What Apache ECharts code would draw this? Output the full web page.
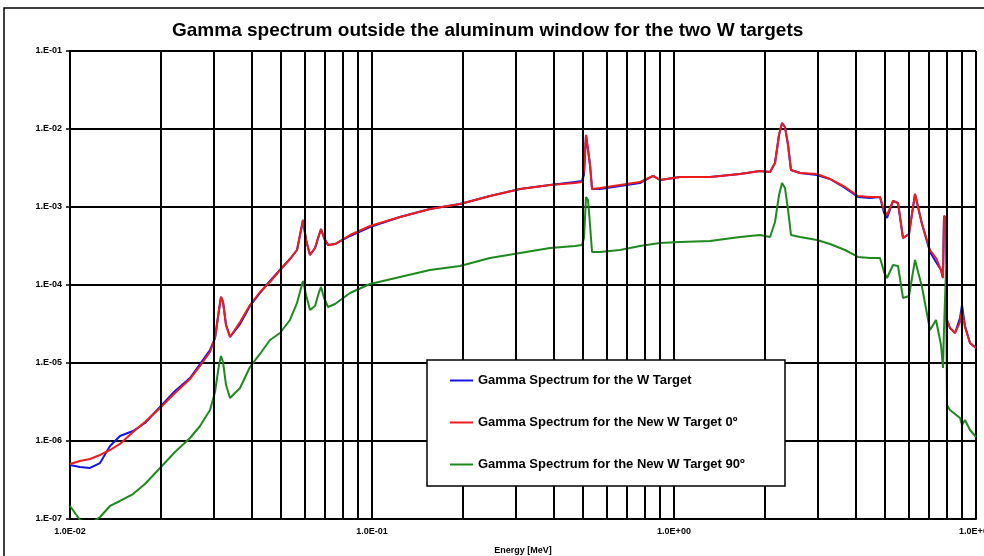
<!DOCTYPE html>
<html>
<head>
<meta charset="utf-8">
<script src="https://cdn.jsdelivr.net/npm/echarts@6/dist/echarts.min.js"></script>
<style>
  html, body { margin: 0; padding: 0; background: #fff; }
  #main { width: 984px; height: 556px; }
</style>
</head>
<body>
<div id="main"></div>
<script>
// energy grid [MeV]
var energy = [
  0.0100, 0.01079, 0.01165, 0.01257, 0.01357, 0.01464, 0.01617, 0.01771, 0.01986, 0.02227,
  0.02497, 0.02695, 0.02908, 0.03021, 0.03114, 0.03162, 0.03211, 0.03286, 0.03388, 0.03656,
  0.03944, 0.04256, 0.04594, 0.04958, 0.0535, 0.05646, 0.05821, 0.0591, 0.06048, 0.06234,
  0.06477, 0.06678, 0.06781, 0.06939, 0.07153, 0.07544, 0.08457, 0.09849, 0.1238, 0.1556,
  0.1956, 0.2459, 0.3091, 0.3885, 0.4702, 0.496, 0.5035, 0.5113, 0.5191, 0.5272,
  0.5353, 0.5689, 0.6625, 0.7716, 0.8522, 0.8988, 1.047, 1.316, 1.654, 1.927,
  2.08, 2.16, 2.227, 2.279, 2.331, 2.386, 2.44, 2.614, 2.976, 3.286,
  3.683, 4.068, 4.457, 4.81, 4.96, 5.074, 5.312, 5.518, 5.732, 6.0,
  6.281, 6.625, 7.043, 7.372, 7.658, 7.776, 7.834, 7.955, 8.016, 8.201,
  8.521, 8.851, 8.988, 9.196, 9.553, 10.0
];
// W target
var wTarget = [
  4.92e-7, 4.64e-7, 4.51e-7, 5.22e-7, 8.63e-7, 1.16e-6, 1.344e-6, 1.702e-6, 2.728e-6, 4.376e-6,
  6.42e-6, 9.71e-6, 1.469e-5, 2.09e-5, 4.78e-5, 7.02e-5, 6.06e-5, 3.07e-5, 2.154e-5, 3.16e-5,
  5.38e-5, 7.9e-5, 1.126e-4, 1.557e-4, 2.154e-4, 2.81e-4, 5.07e-4, 6.81e-4, 3.775e-4, 2.424e-4,
  2.98e-4, 4.376e-4, 5.224e-4, 4.0e-4, 3.257e-4, 3.35e-4, 4.25e-4, 5.54e-4, 7.445e-4, 9.43e-4,
  1.093e-3, 1.384e-3, 1.702e-3, 1.915e-3, 2.09e-3, 2.154e-3, 2.572e-3, 8.38e-3, 8.13e-3, 3.455e-3,
  1.702e-3, 1.702e-3, 1.86e-3, 2.031e-3, 2.5e-3, 2.22e-3, 2.424e-3, 2.424e-3, 2.65e-3, 2.894e-3,
  2.81e-3, 3.665e-3, 8.38e-3, 1.194e-2, 1.061e-2, 6.24e-3, 2.98e-3, 2.728e-3, 2.572e-3, 2.286e-3,
  1.753e-3, 1.344e-3, 1.305e-3, 1.344e-3, 8.38e-4, 7.23e-4, 1.194e-3, 1.126e-3, 4.0e-4, 4.51e-4,
  1.469e-3, 6.06e-4, 2.65e-4, 1.97e-4, 1.557e-4, 1.23e-4, 7.67e-4, 7.23e-4, 3.56e-5, 2.81e-5,
  2.424e-5, 3.775e-5, 5.54e-5, 2.98e-5, 1.805e-5, 1.557e-5
];
// new W target 0 deg
var newW0 = [
  5.07e-7, 5.54e-7, 5.88e-7, 6.62e-7, 7.67e-7, 9.16e-7, 1.305e-6, 1.753e-6, 2.65e-6, 4.125e-6,
  6.24e-6, 9.16e-6, 1.384e-5, 2.09e-5, 4.78e-5, 7.02e-5, 6.06e-5, 3.07e-5, 2.154e-5, 3.35e-5,
  5.54e-5, 8.13e-5, 1.093e-4, 1.557e-4, 2.154e-4, 2.81e-4, 5.07e-4, 6.81e-4, 3.775e-4, 2.424e-4,
  2.98e-4, 4.376e-4, 5.224e-4, 4.0e-4, 3.257e-4, 3.35e-4, 4.376e-4, 5.71e-4, 7.445e-4, 9.43e-4,
  1.093e-3, 1.384e-3, 1.702e-3, 1.915e-3, 2.031e-3, 2.09e-3, 2.98e-3, 8.38e-3, 8.13e-3, 3.455e-3,
  1.702e-3, 1.753e-3, 1.915e-3, 2.09e-3, 2.5e-3, 2.22e-3, 2.424e-3, 2.424e-3, 2.65e-3, 2.894e-3,
  2.81e-3, 3.665e-3, 8.38e-3, 1.194e-2, 1.061e-2, 6.24e-3, 2.98e-3, 2.728e-3, 2.65e-3, 2.286e-3,
  1.805e-3, 1.384e-3, 1.344e-3, 1.344e-3, 9.16e-4, 7.898e-4, 1.194e-3, 1.126e-3, 4.0e-4, 4.51e-4,
  1.469e-3, 6.06e-4, 2.81e-4, 2.22e-4, 1.557e-4, 1.23e-4, 7.67e-4, 7.23e-4, 3.56e-5, 2.81e-5,
  2.424e-5, 3.35e-5, 4.78e-5, 2.894e-5, 1.805e-5, 1.557e-5
];
// new W target 90 deg
var newW90 = [
  1.469e-7, 9.71e-8, 8.63e-8, 1.061e-7, 1.469e-7, 1.702e-7, 2.09e-7, 2.81e-7, 4.51e-7, 7.23e-7,
  1.093e-6, 1.557e-6, 2.5e-6, 4.25e-6, 9.43e-6, 1.23e-5, 1.03e-5, 5.22e-6, 3.56e-6, 4.78e-6,
  8.89e-6, 1.305e-5, 1.97e-5, 2.424e-5, 3.56e-5, 5.88e-5, 9.16e-5, 1.126e-4, 7.445e-5, 4.78e-5,
  5.38e-5, 8.13e-5, 9.43e-5, 6.81e-5, 5.22e-5, 5.71e-5, 7.9e-5, 1.03e-4, 1.267e-4, 1.557e-4,
  1.753e-4, 2.22e-4, 2.572e-4, 2.98e-4, 3.16e-4, 3.257e-4, 4.0e-4, 1.344e-3, 1.23e-3, 5.88e-4,
  2.65e-4, 2.65e-4, 2.81e-4, 3.16e-4, 3.35e-4, 3.455e-4, 3.56e-4, 3.665e-4, 4.125e-4, 4.376e-4,
  4.125e-4, 6.42e-4, 1.426e-3, 2.031e-3, 1.753e-3, 9.16e-4, 4.376e-4, 4.125e-4, 3.775e-4, 3.35e-4,
  2.81e-4, 2.286e-4, 2.22e-4, 2.22e-4, 1.469e-4, 1.23e-4, 1.805e-4, 1.753e-4, 6.81e-5, 7.23e-5,
  2.09e-4, 9.43e-5, 2.65e-5, 3.56e-5, 1.702e-5, 8.63e-6, 2.65e-5, 1.557e-4, 2.894e-6, 2.5e-6,
  2.22e-6, 1.97e-6, 1.604e-6, 1.86e-6, 1.384e-6, 1.126e-6
];
// gridlines between the decades
var minorTicks = [0.02, 0.03, 0.04, 0.05, 0.06, 0.07, 0.08, 0.09,
                  0.2, 0.3, 0.4, 0.5, 0.6, 0.7, 0.8, 0.9,
                  2, 3, 4, 5, 6, 7, 8, 9];
var seriesNames = ['Gamma Spectrum for the W Target', 'Gamma Spectrum for the New W Target 0º', 'Gamma Spectrum for the New W Target 90º'];

function pairs(ys) {
  return energy.map(function (e, i) { return [e, ys[i]]; });
}
function expLabel(v, mant) {
  var e = Math.round(Math.log10(v));
  return mant + 'E' + (e < 0 ? '-' : '+') + String(Math.abs(e)).padStart(2, '0');
}

var font = '"Liberation Sans", Arial, sans-serif';
var chart = echarts.init(document.getElementById('main'));
var option = {
  animation: false,
  backgroundColor: '#fff',
  title: {
    text: 'Gamma spectrum outside the aluminum window for the two W targets',
    left: 167,
    top: 16,
    textStyle: { fontFamily: font, fontSize: 19, fontWeight: 'bold', color: '#000' }
  },
  graphic: [
    { type: 'rect', z: 0, shape: { x: 4, y: 8, width: 1000, height: 600 }, style: { fill: 'none', stroke: '#000', lineWidth: 1.5 } },
    { type: 'rect', z: 50, shape: { x: 427, y: 360, width: 358, height: 126 }, style: { fill: '#fff', stroke: '#000', lineWidth: 1.5 } }
  ],
  legend: {
    data: seriesNames,
    orient: 'vertical',
    left: 445,
    top: 369,
    z: 60,
    icon: 'rect',
    itemWidth: 23,
    itemHeight: 2,
    itemGap: 29,
    textStyle: { fontFamily: font, fontSize: 13, fontWeight: 'bold', color: '#000' }
  },
  grid: { left: 70, right: 8, top: 51, bottom: 37, containLabel: false, outerBoundsMode: 'none' },
  xAxis: {
    type: 'log',
    logBase: 10,
    min: 0.01,
    max: 10,
    name: 'Energy [MeV]',
    nameLocation: 'middle',
    nameGap: 27,
    nameTextStyle: { fontFamily: font, fontSize: 9, fontWeight: 'bold', color: '#000' },
    axisLine: { lineStyle: { color: '#000', width: 2 } },
    axisTick: { show: false },
    axisLabel: {
      fontFamily: font, fontSize: 9, fontWeight: 'bold', color: '#000', margin: 8,
      showMaxLabel: true, hideOverlap: false,
      formatter: function (v) { return expLabel(v, '1.0'); }
    },
    splitLine: { show: true, lineStyle: { color: '#000', width: 2 } }
  },
  yAxis: {
    type: 'log',
    logBase: 10,
    min: 1e-7,
    max: 1e-1,
    axisLine: { lineStyle: { color: '#000', width: 2 } },
    axisTick: { show: true, length: 4, lineStyle: { color: '#000', width: 1.5 } },
    axisLabel: {
      fontFamily: font, fontSize: 9, fontWeight: 'bold', color: '#000', margin: 8,
      formatter: function (v) { return expLabel(v, '1.'); }
    },
    splitLine: { show: true, lineStyle: { color: '#000', width: 2 } }
  },
  series: [
    {
      name: 'minor grid',
      type: 'line',
      data: [],
      z: 1,
      silent: true,
      markLine: {
        silent: true,
        symbol: 'none',
        label: { show: false },
        lineStyle: { color: '#000', width: 2, type: 'solid' },
        data: minorTicks.map(function (t) { return { xAxis: t }; })
      }
    },
    {
      name: seriesNames[0],
      type: 'line',
      data: pairs(wTarget),
      showSymbol: false,
      color: '#1414e6',
      lineStyle: { width: 2 },
      z: 3
    },
    {
      name: seriesNames[1],
      type: 'line',
      data: pairs(newW0),
      showSymbol: false,
      color: '#ee1c1c',
      lineStyle: { width: 2 },
      z: 4
    },
    {
      name: seriesNames[2],
      type: 'line',
      data: pairs(newW90),
      showSymbol: false,
      color: '#1e8a1e',
      lineStyle: { width: 2 },
      z: 4
    }
  ]
};
chart.setOption(option);
</script>
</body>
</html>
